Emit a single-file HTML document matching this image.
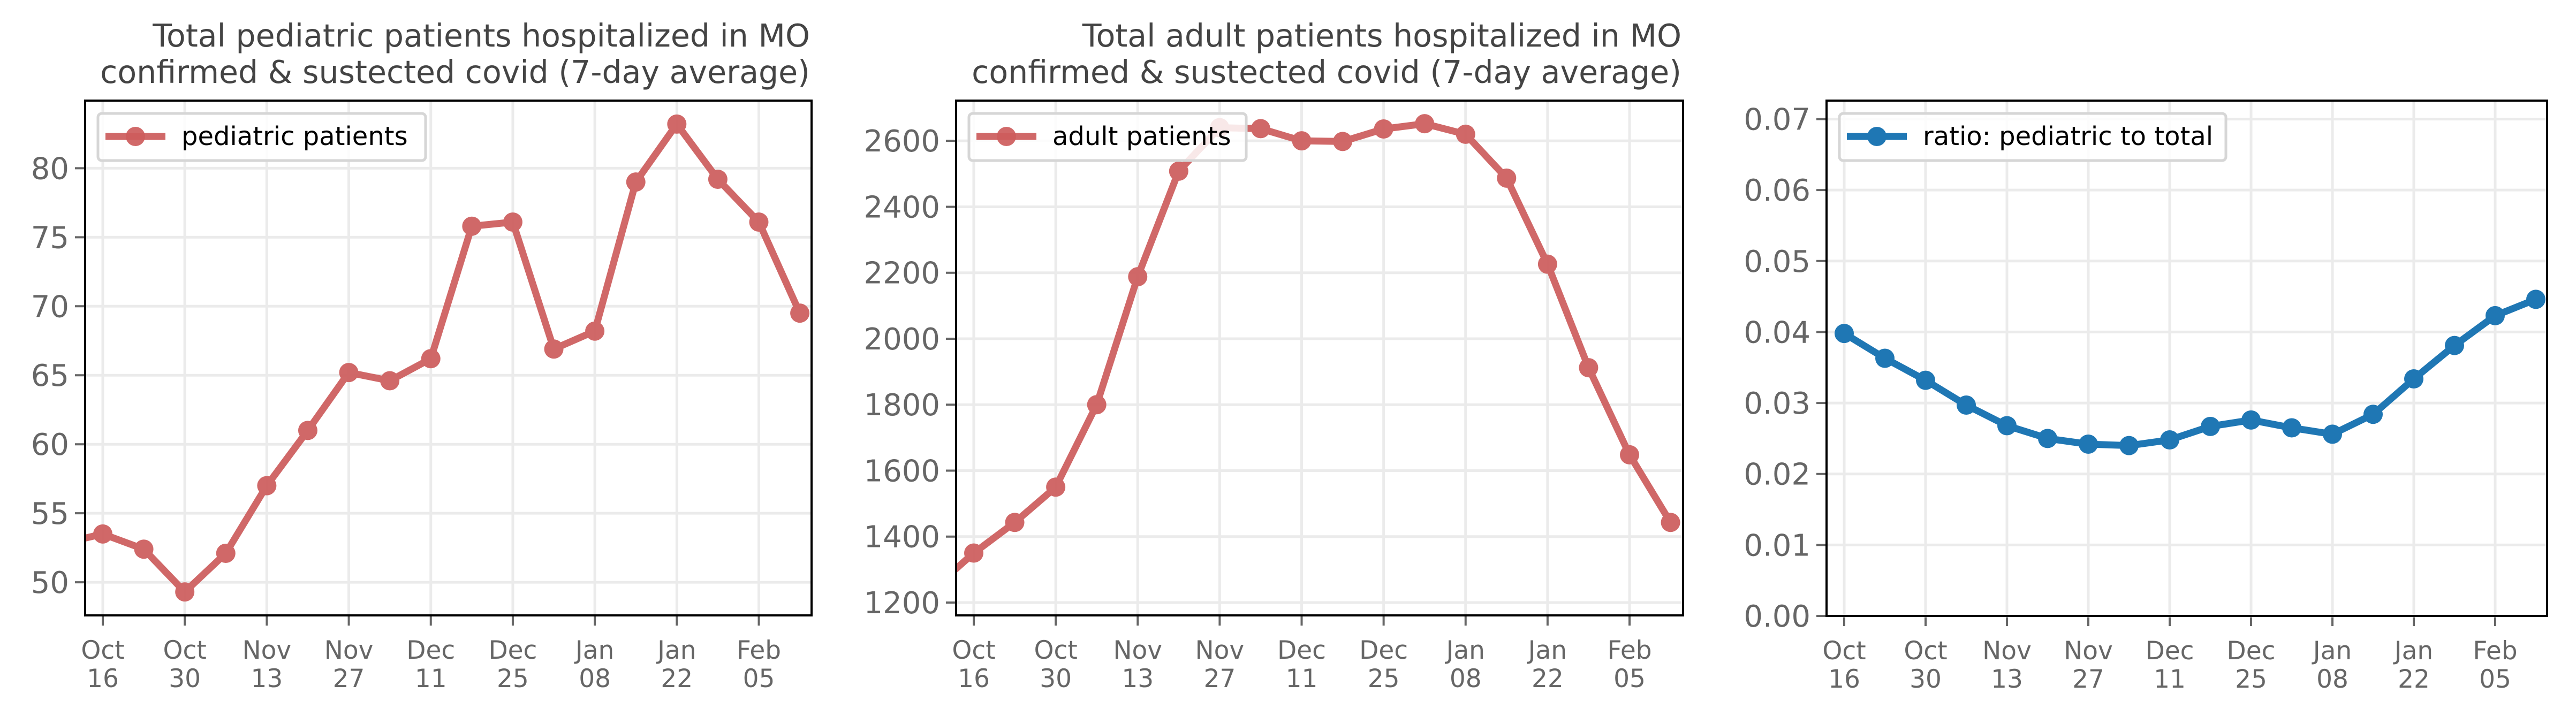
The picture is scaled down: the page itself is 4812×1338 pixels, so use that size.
<!DOCTYPE html>
<html><head><meta charset="utf-8"><style>
html,body{margin:0;padding:0;background:#fff;overflow:hidden}
svg{display:block}
text{font-family:"DejaVu Sans","Liberation Sans",sans-serif}
</style></head><body>
<svg id="fig" width="4812" height="1338" viewBox="0 0 4812 1338" xmlns="http://www.w3.org/2000/svg"></svg>
<script>
const weekLabelsTop=["Oct","Oct","Nov","Nov","Dec","Dec","Jan","Jan","Feb"];
const weekLabelsBottom=["16","30","13","27","11","25","08","22","05"];
const pedWeeks=[-1,0,1,2,3,4,5,6,7,8,9,10,11,12,13,14,15,16,17];
const pedValues=[52.8,53.5,52.4,49.3,52.1,57.0,61.0,65.2,64.6,66.2,75.8,76.1,66.9,68.2,79.0,83.2,79.2,76.1,69.5];
const adultWeeks=[-1,0,1,2,3,4,5,6,7,8,9,10,11,12,13,14,15,16,17];
const adultValues=[1240,1350,1443,1550,1800,2188,2508,2640,2637,2600,2598,2636,2652,2620,2487,2226,1912,1648,1443];
const ratioWeeks=[0,1,2,3,4,5,6,7,8,9,10,11,12,13,14,15,16,17];
const ratioValues=[0.0398,0.0363,0.0332,0.0297,0.0268,0.0250,0.0242,0.0240,0.0248,0.0267,0.0276,0.0265,0.0256,0.0284,0.0334,0.0381,0.0423,0.0446];
const pedTicks=[50,55,60,65,70,75,80];
const adultTicks=[1200,1400,1600,1800,2000,2200,2400,2600];
const ratioTicks=[0,0.01,0.02,0.03,0.04,0.05,0.06,0.07];
const ratioTickLabels=["0.00","0.01","0.02","0.03","0.04","0.05","0.06","0.07"];

const NS="http://www.w3.org/2000/svg";
const svg=document.getElementById('fig');
function mk(tag,attrs,parent){const e=document.createElementNS(NS,tag);for(const k in attrs)e.setAttribute(k,attrs[k]);(parent||svg).appendChild(e);return e;}

function panel(p){
  const g=mk('g',{});
  
  
  const xs=w=>p.x16+(w)*(p.x05-p.x16)/16;
  const ys=v=>p.top+(p.ymax-v)/(p.ymax-p.ymin)*(p.bottom-p.top);
  const cid='clip'+p.name;
  const cp=mk('clipPath',{id:cid},g);mk('rect',{x:p.left,y:p.top,width:p.right-p.left,height:p.bottom-p.top},cp);
  for(let i=0;i<9;i++){
    const x=xs(i*2);
    const gl=mk('line',{x1:x,x2:x,y1:p.top,y2:p.bottom,stroke:'#ebebeb','stroke-width':5},g);
    
    
    const tk=mk('line',{x1:x,x2:x,y1:p.bottom,y2:p.bottom+19,stroke:'#666','stroke-width':4},g);
    
    
    const t=mk('text',{x:x,y:p.bottom+81,'font-size':47,fill:'#666','text-anchor':'middle'},g);
    
    
    const a=mk('tspan',{x:x},t);a.textContent=weekLabelsTop[i];
    const b=mk('tspan',{x:x,dy:53},t);b.textContent=weekLabelsBottom[i];
  }
  p.ticks.forEach((v,i)=>{
    const y=ys(v);
    const gl=mk('line',{x1:p.left,x2:p.right,y1:y,y2:y,stroke:'#ebebeb','stroke-width':5},g);
    
    
    const tk=mk('line',{x1:p.left-19,x2:p.left,y1:y,y2:y,stroke:'#666','stroke-width':4},g);
    
    
    const t=mk('text',{x:p.left-30,y:y+20,'font-size':56,fill:'#666','text-anchor':'end'},g);
    
    
    t.textContent=p.tickLabels?p.tickLabels[i]:String(v);
  });
  const sg=mk('g',{'clip-path':'url(#'+cid+')',opacity:p.opacity},g);
  
  
  const pts=p.weeks.map((w,i)=>xs(w)+','+ys(p.values[i])).join(' ');
  const pl=mk('polyline',{points:pts,fill:'none',stroke:p.color,'stroke-width':13,'stroke-linejoin':'round'},sg);
  
  
  p.weeks.forEach((w,i)=>{
    const c=mk('circle',{cx:xs(w),cy:ys(p.values[i]),r:18,fill:p.color},sg);
    
    
  });
  const fr=mk('rect',{x:p.left,y:p.top,width:p.right-p.left,height:p.bottom-p.top,fill:'none',stroke:'#000','stroke-width':4},g);
  
  
  const lg=mk('g',{},g);
  
  
  mk('rect',{x:p.left+24,y:p.top+24,width:p.legendW,height:88,rx:7,fill:'#fff','fill-opacity':0.85,stroke:'#d6d6d6','stroke-width':5},lg);
  mk('line',{x1:p.left+38,x2:p.left+150,y1:p.top+67,y2:p.top+67,stroke:p.color,'stroke-width':13,opacity:p.opacity},lg);
  mk('circle',{cx:p.left+94,cy:p.top+67,r:18,fill:p.color,opacity:p.opacity},lg);
  const lt=mk('text',{x:p.left+180,y:p.top+83,'font-size':48,fill:'#000'},lg);
  lt.textContent=p.legend;
  if(p.title1){
    const t1=mk('text',{x:p.right-3,y:87,'font-size':58.5,fill:'#444','text-anchor':'end'},g);
    
    
    t1.textContent=p.title1;
    const t2=mk('text',{x:p.right-3,y:155,'font-size':58.5,fill:'#444','text-anchor':'end'},g);
    
    
    t2.textContent='confirmed & sustected covid (7-day average)';
  }
}
panel({name:'pediatric-panel',left:159,right:1516,top:188,bottom:1150,x16:192,x05:1417.5,ymin:47.6,ymax:84.9,
  ticks:pedTicks,weeks:pedWeeks,values:pedValues,color:'#cd5c5c',opacity:0.92,legend:'pediatric patients',legendW:612,
  title1:'Total pediatric patients hospitalized in MO'});
panel({name:'adult-panel',left:1786,right:3144,top:188,bottom:1150,x16:1819,x05:3044,ymin:1161,ymax:2722,
  ticks:adultTicks,weeks:adultWeeks,values:adultValues,color:'#cd5c5c',opacity:0.92,legend:'adult patients',legendW:518,
  title1:'Total adult patients hospitalized in MO'});
panel({name:'ratio-panel',left:3412,right:4758,top:188,bottom:1151,x16:3445,x05:4661,ymin:0,ymax:0.0726,
  ticks:ratioTicks,tickLabels:ratioTickLabels,weeks:ratioWeeks,values:ratioValues,color:'#1f77b4',opacity:1,legend:'ratio: pediatric to total',legendW:722,
  title1:null});
</script>
</body></html>
